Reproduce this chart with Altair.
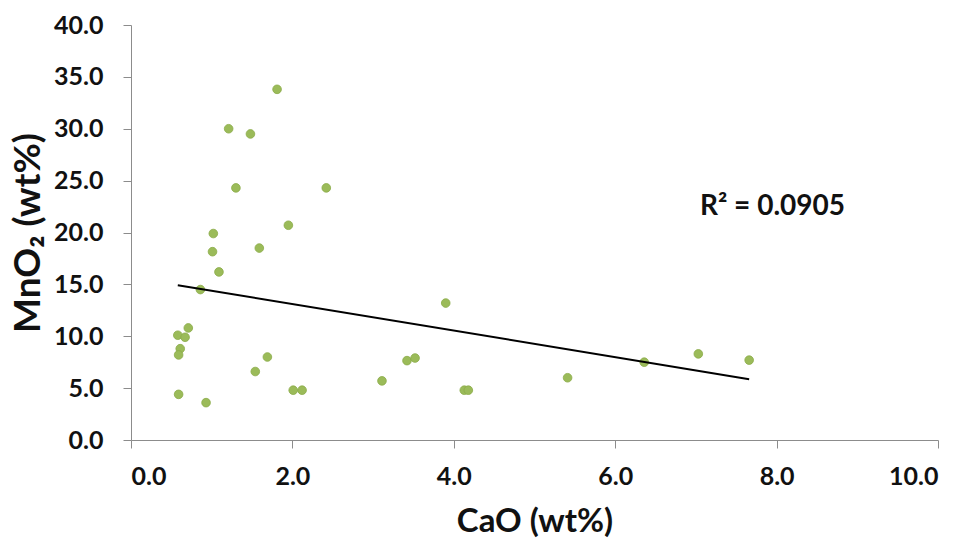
import altair as alt
import pandas as pd

# CaO and MnO2 contents (wt%) of the samples
cao = [1.81, 1.21, 1.48, 1.30, 2.42, 1.95, 1.02, 1.01, 1.59, 1.09,
       0.86, 0.71, 0.58, 0.67, 0.61, 0.59, 1.69, 1.54, 0.59, 0.93,
       2.01, 2.12, 3.11, 3.42, 3.52, 3.90, 4.13, 4.18, 5.41, 6.36,
       7.03, 7.66]
mno2 = [33.8, 30.0, 29.5, 24.3, 24.3, 20.7, 19.9, 18.15, 18.5, 16.2,
        14.5, 10.8, 10.1, 9.9, 8.8, 8.2, 8.0, 6.6, 4.4, 3.6,
        4.8, 4.8, 5.7, 7.65, 7.9, 13.2, 4.8, 4.8, 6.0, 7.5,
        8.3, 7.7]

r2_label = ["R² = 0.0905"]
r2_x = [7.05]
r2_y = [22.5]

df = pd.DataFrame({"CaO": cao, "MnO2": mno2})
lab = pd.DataFrame({"label": r2_label, "x": r2_x, "y": r2_y})

FONT = "Lato"

xscale = alt.Scale(domain=[0, 10], nice=False, zero=True)
yscale = alt.Scale(domain=[0, 40], nice=False, zero=True)

x_enc = alt.X(
    "CaO:Q", scale=xscale,
    axis=alt.Axis(title="CaO (wt%)", values=[0, 2, 4, 6, 8, 10], format=".1f",
                  grid=False, domainColor="#8c8c8c", tickColor="#8c8c8c",
                  tickSize=8, labelPadding=16, labelFontSize=25, labelFont=FONT,
                  labelFontWeight="bold", labelColor="#111111",
                  titleFontSize=33, titleFont=FONT, titleFontWeight="bold",
                  titleColor="#111111", titlePadding=16),
)
y_enc = alt.Y(
    "MnO2:Q", scale=yscale,
    axis=alt.Axis(title="MnO₂ (wt%)", values=[0, 5, 10, 15, 20, 25, 30, 35, 40],
                  format=".1f", grid=False, domainColor="#8c8c8c",
                  tickColor="#8c8c8c", tickSize=8, labelPadding=20,
                  labelFontSize=25, labelFont=FONT, labelFontWeight="bold",
                  labelColor="#111111", titleFontSize=37, titleFont=FONT,
                  titleFontWeight="bold", titleColor="#111111", titlePadding=6),
)

base = alt.Chart(df)

points = base.mark_circle(size=75, color="#9bbb59", opacity=1,
                          stroke="#8aab48", strokeWidth=0.8).encode(x=x_enc, y=y_enc)

trend = base.transform_regression("CaO", "MnO2").mark_line(
    color="#000000", strokeWidth=2
).encode(x="CaO:Q", y="MnO2:Q")

r2 = alt.Chart(lab).mark_text(
    align="left", baseline="middle", fontSize=28, fontWeight="bold",
    font=FONT, color="#111111"
).encode(x="x:Q", y="y:Q", text="label:N")

chart = alt.layer(points, trend, r2).properties(
    width=807, height=415,
    padding={"left": 131, "top": 25, "right": 32, "bottom": 109},
    autosize=alt.AutoSizeParams(type="none"),
).configure_view(stroke=None)

chart.save("out.html", embed_options={"renderer": "svg", "actions": False})
